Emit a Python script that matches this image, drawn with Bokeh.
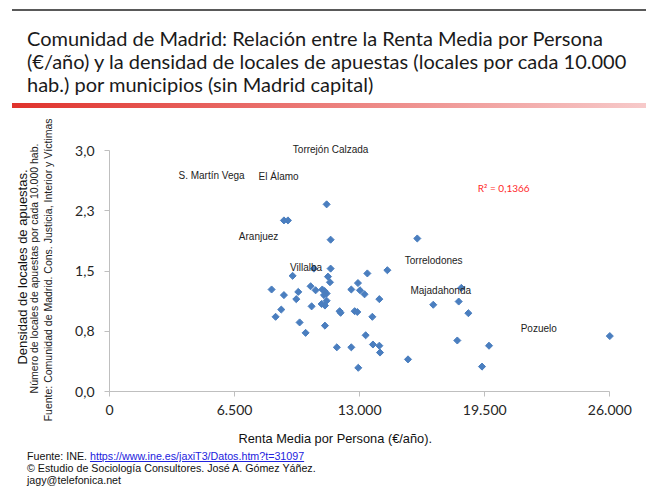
from bokeh.plotting import figure
from bokeh.models import Range1d, FixedTicker, LinearAxis, Title, Div, Label
from bokeh.layouts import column
from bokeh.core.properties import value
from bokeh.embed import file_html
from bokeh.resources import INLINE
import math

# ---- data ----
renta = [11284, 9065, 9273, 11492, 11492, 10625, 14440, 13400, 9516, 11353,
         11457, 12912, 10452, 8424, 9810, 10712, 11059, 11180, 11284, 11145,
         12566, 13018, 13255, 9065, 9706, 14023, 11284, 11024, 10504, 11197,
         8927, 11960, 12011, 12740, 12878, 8632, 13660, 9880, 11196, 10192,
         13312, 13691, 14023, 14058, 11814, 12566, 12928, 16825, 18147, 18650,
         18075, 19723, 19359, 26000, 15513, 15995, 18283]
densidad = [2.33, 2.13, 2.13, 1.89, 1.53, 1.53, 1.51, 1.47, 1.44, 1.43,
            1.36, 1.35, 1.31, 1.27, 1.24, 1.26, 1.27, 1.25, 1.22, 1.20,
            1.27, 1.26, 1.21, 1.20, 1.15, 1.15, 1.13, 1.09, 1.06, 1.07,
            1.02, 1.00, 0.98, 1.00, 0.99, 0.93, 0.93, 0.86, 0.82, 0.73,
            0.70, 0.585, 0.57, 0.485, 0.55, 0.55, 0.295, 1.08, 1.12, 0.975,
            0.635, 0.57, 0.31, 0.69, 0.40, 1.905, 1.29]

label_names = ["Torrejón Calzada", "S. Martín Vega", "El Álamo", "Aranjuez",
               "Villalba", "Torrelodones", "Majadahonda", "Pozuelo"]
label_x = [11492, 5304, 8788, 7748, 10218, 16848, 17212, 22308]
label_y = [3.01, 2.69, 2.68, 1.93, 1.54, 1.63, 1.26, 0.78]

x_ticks = [0, 6500, 13000, 19500, 26000]
x_tick_labels = ["0", "6.500", "13.000", "19.500", "26.000"]
y_ticks = [0.0, 0.75, 1.5, 2.25, 3.0]
y_tick_labels = ["0,0", "0,8", "1,5", "2,3", "3,0"]

r2_text = "R² = 0,1366"
r2_pos = (20488, 2.53)
title_lines = ["Comunidad de Madrid: Relación entre la Renta Media por Persona",
               "(€/año) y la densidad de locales de apuestas (locales por cada 10.000",
               "hab.) por municipios (sin Madrid capital)"]
x_title = "Renta Media por Persona (€/año)."
y_title_lines = ["Densidad de locales de apuestas.",
                 "Número de  locales de apuestas por cada 10.000 hab.",
                 "Fuente:  Comunidad de Madrid. Cons.  Justicia, Interior y Víctimas"]
footer_src = "Fuente: INE. "
footer_link = "https://www.ine.es/jaxiT3/Datos.htm?t=31097"
footer_2 = "© Estudio de Sociología Consultores. José A. Gómez Yáñez."
footer_3 = "jagy@telefonica.net"

# ---- layout ----
W = 646
TOP_H = 112
FIG_H = 348
FOOT_H = 26

title_html = (
    '<div style="position:relative;width:%dpx;height:%dpx;">' % (W, TOP_H)
    + '<div style="position:absolute;left:12px;top:9px;width:634px;height:2px;'
      'background:#595959;"></div>'
    + '<div style="position:absolute;left:27px;top:27px;font-family:Lato;'
      'font-size:20px;line-height:23px;color:#1a1a1a;white-space:nowrap;">'
    + "<br>".join(title_lines) + "</div>"
    + '<div style="position:absolute;left:12px;top:102.5px;width:634px;height:5.5px;'
      'background:linear-gradient(to right,#e0322c,#f7caca);"></div>'
    + "</div>")
title_div = Div(text=title_html, width=W, height=TOP_H,
                styles={"margin": "0", "padding": "0"})

p = figure(width=W, height=FIG_H, output_backend="svg", toolbar_location=None,
           x_range=Range1d(0, 26400), y_range=Range1d(0, 3.1),
           min_border_left=109, min_border_right=29,
           min_border_top=30, min_border_bottom=69)
p.outline_line_color = None
p.grid.visible = False
p.background_fill_color = "white"
p.border_fill_color = "white"

for ax, ticks, labels, bounds in ((p.xaxis[0], x_ticks, x_tick_labels, (0, 26000)),
                                  (p.yaxis[0], y_ticks, y_tick_labels, (0, 3.0))):
    ax.ticker = FixedTicker(ticks=ticks)
    ax.major_label_overrides = {float(t): l for t, l in zip(ticks, labels)}
    ax.bounds = bounds
    ax.axis_line_color = "#bfbfbf"
    ax.major_tick_line_color = "#bfbfbf"
    ax.minor_tick_line_color = None
    ax.major_tick_in = 0
    ax.major_tick_out = 5
    ax.major_label_text_font = "Lato"
    ax.major_label_text_font_size = "14px"
    ax.major_label_text_color = "#262626"
p.xaxis.major_label_standoff = 8
p.yaxis.major_label_standoff = 10

# y-axis title: three lines, innermost is the source line
ya = p.yaxis[0]
ya.axis_label = y_title_lines[2]
ya.axis_label_text_font = "Liberation Sans"
ya.axis_label_text_font_size = "10.5px"
ya.axis_label_text_font_style = "normal"
ya.axis_label_text_color = "#222222"
ya.axis_label_standoff = 18

for txt, size, stand, col in ((y_title_lines[1], "10.5px", 0, "#222222"),
                              (y_title_lines[0], "13px", -5, "#111111")):
    p.add_layout(LinearAxis(axis_label=txt, ticker=FixedTicker(ticks=[]),
                            axis_line_color=None, major_tick_line_color=None,
                            minor_tick_line_color=None, major_label_text_font_size="0px",
                            major_label_standoff=0, major_tick_out=0, major_tick_in=0,
                            axis_label_standoff=stand,
                            axis_label_text_font="Liberation Sans",
                            axis_label_text_font_size=size,
                            axis_label_text_font_style="normal",
                            axis_label_text_color=col), "left")

# x-axis title (left-aligned, offset from frame's left edge)
p.add_layout(Title(text=x_title, align="left", offset=129, standoff=22,
                   text_font="Liberation Sans", text_font_size="12.8px",
                   text_font_style="normal", text_color="#111111"), "below")

p.scatter(renta, densidad, marker="square", angle=math.pi / 4, size=5,
          fill_color="#4a7ebf", line_color="#4a7ebf")

p.text(x=label_x, y=label_y, text=label_names, text_font=value("Liberation Sans"),
       text_font_size="10px", text_align="center", text_baseline="middle",
       text_color="#222222")

p.add_layout(Label(x=r2_pos[0], y=r2_pos[1], text=r2_text, text_font="Lato",
                   text_font_size="10px", text_color="#ff2a2a",
                   text_align="center", text_baseline="middle"))

foot_html = (
    '<div style="position:relative;width:%dpx;height:%dpx;font-family:\'Liberation Sans\';'
    'font-size:10.7px;line-height:12.5px;color:#111111;white-space:nowrap;'
    'overflow:visible;">' % (W, FOOT_H)
    + '<div style="position:absolute;left:27px;top:-10px;">' + footer_src
    + '<span style="color:#2222dd;text-decoration:underline;">' + footer_link
    + "</span></div>"
    + '<div style="position:absolute;left:27px;top:2px;">' + footer_2 + "</div>"
    + '<div style="position:absolute;left:27px;top:14px;">' + footer_3 + "</div>"
    + "</div>")
foot_div = Div(text=foot_html, width=W, height=FOOT_H,
               styles={"margin": "0", "padding": "0", "overflow": "visible"})

layout = column(title_div, p, foot_div, spacing=0)
open("out.html", "w").write(file_html(layout, INLINE))
